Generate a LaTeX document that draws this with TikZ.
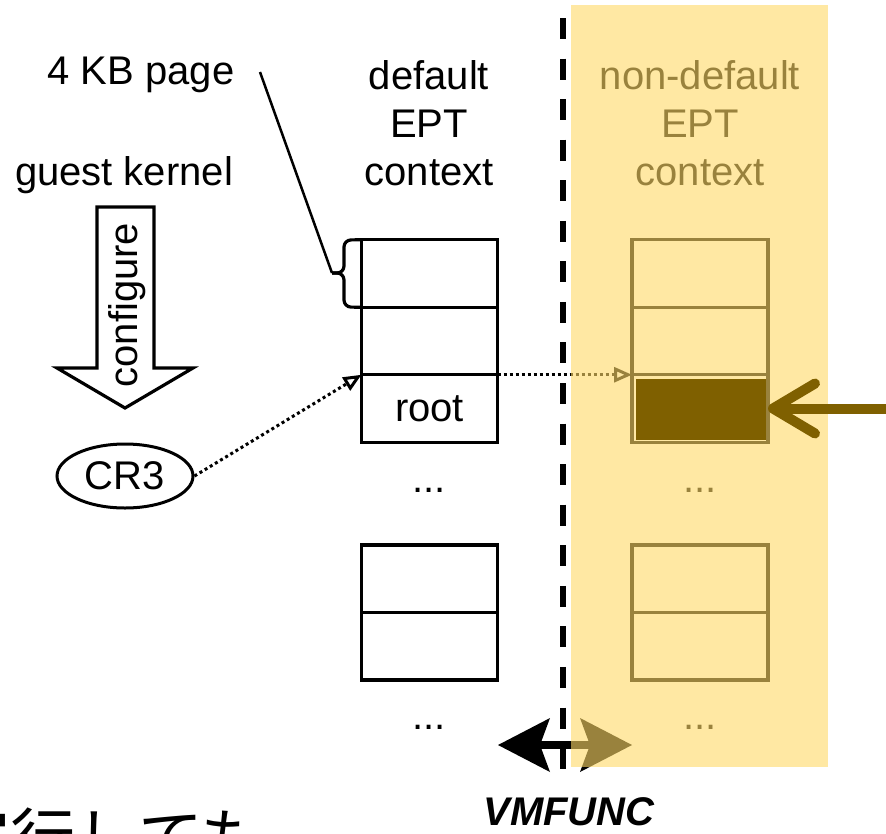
\documentclass[tikz,border=0pt]{standalone}
\usepackage{fontspec}
\setmainfont{Liberation Sans}
\newfontfamily\jpfont{Noto Sans CJK JP}
\usetikzlibrary{arrows.meta,shapes.geometric}
\definecolor{ovl}{HTML}{FFD966}
\definecolor{darkol}{HTML}{7F6000}
\begin{document}
\begin{tikzpicture}[x=1pt,y=-1pt,
  font=\fontsize{40}{48}\selectfont,
  cell/.style={draw, line width=3.4pt, minimum width=136pt, minimum height=67.5pt, inner sep=0pt, outer sep=0pt},
  lbl/.style={align=center, inner sep=0pt},
  dotarrow/.style={line width=3pt, dash pattern=on 3pt off 3pt, -{Triangle[open, length=18pt, width=15pt]}},
  vmtip/.tip={Stealth[length=52pt, width=54pt, inset=10pt, line width=0pt]},
]
\useasboundingbox (0,0) rectangle (886,833);

% labels
\node[lbl] (kb) at (141,75) {4 KB page};
\node[lbl] (gk) at (124,175) {guest kernel};
\node[lbl] (dctx) at (429,123) {default\\EPT\\context};
\node[lbl] (nctx) at (700,123) {non-default\\EPT\\context};

% default EPT stack
\node[cell] (l1) at (429.5,273.5) {};
\node[cell] (l2) at (429.5,341) {};
\node[cell] (l3) at (429.5,408.5) {root};
\node[cell] (l4) at (429.5,578.75) {};
\node[cell] (l5) at (429.5,646.25) {};
\node (ld1) at (429,490) {...};
\node (ld2) at (429,727) {...};

% non-default EPT stack (drawn black, tinted by overlay)
\node[cell] (r1) at (700,273.5) {};
\node[cell] (r2) at (700,341) {};
\node[cell] (r3) at (700,408.5) {};
\node[cell] (r4) at (700,578.75) {};
\node[cell] (r5) at (700,646.25) {};
\node (rd1) at (700,490) {...};
\node (rd2) at (700,727) {...};

% configure block arrow
\draw[line width=3.2pt, line join=miter] (97,207) -- (154,207) -- (154,368) -- (193,368) -- (125,408) -- (57,368) -- (97,368) -- cycle;
\node[rotate=90, inner sep=0pt] (cfg) at (127,305) {configure};

% CR3
\node[ellipse, draw, line width=3pt, minimum width=136pt, minimum height=64pt, inner sep=0pt] (cr3) at (125,476) {CR3};

% brace and leader
\coordinate (kbend) at (260,72);
\coordinate (btip) at (332,273);
\draw[line width=2.5pt] (kbend) -- (btip);
\draw[line width=3.2pt, rounded corners=7pt] (l1.north west) -- (344,240) -- (344,273) -- (btip);
\draw[line width=3.2pt, rounded corners=7pt] (btip) -- (344,273) -- (344,307) -- (l1.south west);

% dotted arrows
\draw[dotarrow] (cr3.east) -- (l3.north west);
\draw[dotarrow] (l3.north east) -- (r3.north west);

% VMFUNC arrow
\coordinate (va) at (498,745);
\coordinate (vb) at (632,745);
\draw[line width=8pt, vmtip-vmtip] (va) -- (vb);
\node[font=\fontsize{40}{48}\selectfont\bfseries\itshape, inner sep=0pt] (vm) at (569,812) {VMFUNC};

% Japanese text (cut at bottom, as in the reference)
\node[anchor=base west, inner sep=0pt, font=\fontsize{65}{65}\jpfont] (jp) at (-55,862) {実行しても};

% overlay
\fill[ovl, opacity=0.6] (571,5) rectangle (828,767);

% dashed separator
\coordinate (dtop) at (563,18);
\coordinate (dbot) at (563,770);
\draw[line width=6pt, dash pattern=on 21pt off 19.56pt] (dtop) -- (dbot);

% highlighted cell and arrow
\node[fill=darkol, minimum width=130pt, minimum height=61pt, inner sep=0pt, outer sep=0pt] (hl) at (700.5,409) {};
\coordinate (src) at (900,408.5);
\draw[darkol, line width=10pt, -{Straight Barb[length=42pt, width=50pt, round]}] (src) -- (r3.east);
\end{tikzpicture}
\end{document}
